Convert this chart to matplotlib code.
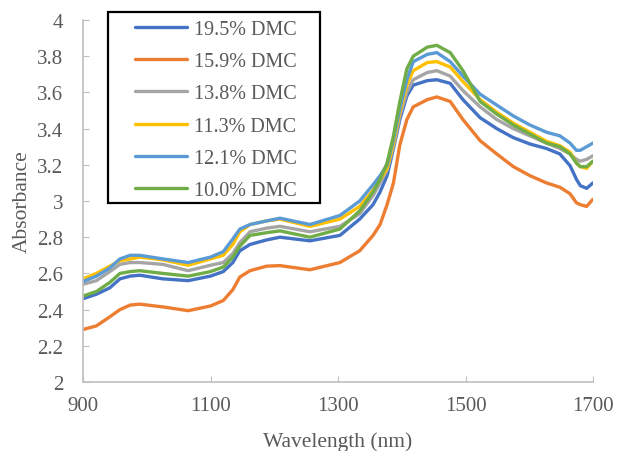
import matplotlib.pyplot as plt
from matplotlib.patches import Rectangle

plt.rcParams['font.family'] = ['Liberation Serif', 'DejaVu Serif']

wavelength = [900, 921, 942, 958, 974, 989, 1025, 1065, 1100, 1120, 1135, 1146,
              1162, 1188, 1209, 1256, 1303, 1334, 1355, 1366, 1377, 1387, 1397,
              1408, 1418, 1440, 1455, 1476, 1496, 1523, 1549, 1575, 1601, 1627,
              1648, 1664, 1674, 1680, 1690, 1700]

dmc_195 = [2.46, 2.485, 2.52, 2.57, 2.585, 2.59, 2.57, 2.56, 2.585, 2.61, 2.66,
           2.725, 2.76, 2.785, 2.80, 2.78, 2.81, 2.90, 2.98, 3.05, 3.14, 3.29,
           3.45, 3.58, 3.64, 3.665, 3.67, 3.65, 3.56, 3.46, 3.40, 3.35, 3.315,
           3.29, 3.26, 3.195, 3.12, 3.085, 3.07, 3.10]
dmc_159 = [2.29, 2.31, 2.36, 2.40, 2.425, 2.43, 2.415, 2.394, 2.42, 2.45, 2.51,
           2.58, 2.615, 2.64, 2.643, 2.62, 2.66, 2.725, 2.81, 2.87, 2.98, 3.10,
           3.31, 3.45, 3.52, 3.56, 3.575, 3.55, 3.45, 3.333, 3.26, 3.19, 3.14,
           3.10, 3.076, 3.04, 2.99, 2.98, 2.97, 3.01]
dmc_138 = [2.54, 2.56, 2.61, 2.65, 2.66, 2.66, 2.65, 2.615, 2.645, 2.66, 2.71,
           2.77, 2.83, 2.85, 2.86, 2.83, 2.86, 2.93, 3.03, 3.10, 3.17, 3.30,
           3.47, 3.60, 3.67, 3.71, 3.72, 3.69, 3.61, 3.52, 3.45, 3.40, 3.36,
           3.32, 3.29, 3.26, 3.23, 3.22, 3.23, 3.25]
dmc_113 = [2.57, 2.60, 2.64, 2.67, 2.68, 2.69, 2.675, 2.645, 2.68, 2.70, 2.76,
           2.83, 2.87, 2.89, 2.90, 2.86, 2.90, 2.97, 3.06, 3.12, 3.18, 3.32,
           3.49, 3.64, 3.72, 3.765, 3.77, 3.74, 3.66, 3.56, 3.49, 3.43, 3.38,
           3.33, 3.305, 3.27, 3.21, 3.19, 3.18, 3.22]
dmc_121 = [2.555, 2.585, 2.63, 2.68, 2.70, 2.70, 2.68, 2.66, 2.69, 2.72, 2.79,
           2.845, 2.87, 2.89, 2.905, 2.87, 2.92, 3.00, 3.09, 3.14, 3.20, 3.34,
           3.51, 3.67, 3.77, 3.81, 3.82, 3.77, 3.69, 3.59, 3.53, 3.47, 3.42,
           3.38, 3.36, 3.32, 3.28, 3.28, 3.30, 3.32]
dmc_100 = [2.475, 2.50, 2.55, 2.60, 2.61, 2.615, 2.60, 2.585, 2.61, 2.635, 2.69,
           2.75, 2.81, 2.825, 2.835, 2.80, 2.845, 2.945, 3.05, 3.12, 3.21, 3.36,
           3.55, 3.73, 3.80, 3.85, 3.86, 3.82, 3.72, 3.55, 3.48, 3.42, 3.37,
           3.32, 3.30, 3.26, 3.21, 3.19, 3.19, 3.22]

series = [
    (dmc_195, '#4472C4', '19.5% DMC'),
    (dmc_159, '#ED7D31', '15.9% DMC'),
    (dmc_138, '#A5A5A5', '13.8% DMC'),
    (dmc_113, '#FFC000', '11.3% DMC'),
    (dmc_121, '#5B9BD5', '12.1% DMC'),
    (dmc_100, '#70AD47', '10.0% DMC'),
]

txt = '#595959'
fig = plt.figure(figsize=(6.18, 4.52), dpi=100)
ax = fig.add_axes([83/618, 1-383/452, 510/618, 362/452])

for vals, col, lab in series:
    ax.plot(wavelength, vals, color=col, lw=2.4, label=lab,
            solid_capstyle='round', solid_joinstyle='round')

ax.set_xlim(900, 1700)
ax.set_ylim(2, 4)
ax.set_xticks([900, 1100, 1300, 1500, 1700])
ax.set_yticks([2, 2.2, 2.4, 2.6, 2.8, 3, 3.2, 3.4, 3.6, 3.8, 4])
ax.set_yticklabels(['2', '2.2', '2.4', '2.6', '2.8', '3', '3.2', '3.4', '3.6', '3.8', '4'])
ax.tick_params(direction='in', length=4, color='#BFBFBF', labelcolor=txt,
               labelsize=15)
ax.tick_params(axis='x', pad=10)
ax.tick_params(axis='y', pad=14)
for s in ['top', 'right']:
    ax.spines[s].set_visible(False)
for s in ['left', 'bottom']:
    ax.spines[s].set_color('#BFBFBF')
    ax.spines[s].set_linewidth(1.2)

ax.set_xlabel('Wavelength (nm)', fontsize=15.5, color=txt, labelpad=12)
ax.set_ylabel('Absorbance', fontsize=15.5, color=txt, labelpad=4)

leg = ax.legend(loc='upper left', bbox_to_anchor=(52/510, 1.0), fontsize=14.5,
                frameon=False, labelspacing=0.65, handlelength=2.6,
                handletextpad=0.35, borderpad=0, borderaxespad=0)
for t in leg.get_texts():
    t.set_color(txt)

# black box around the legend
fig.patches.append(Rectangle((108/618, 1-204/452), 212/618, 191/452,
                             transform=fig.transFigure, fill=False,
                             edgecolor='black', linewidth=1.6, zorder=5))

fig.savefig('out.png', dpi=100)
